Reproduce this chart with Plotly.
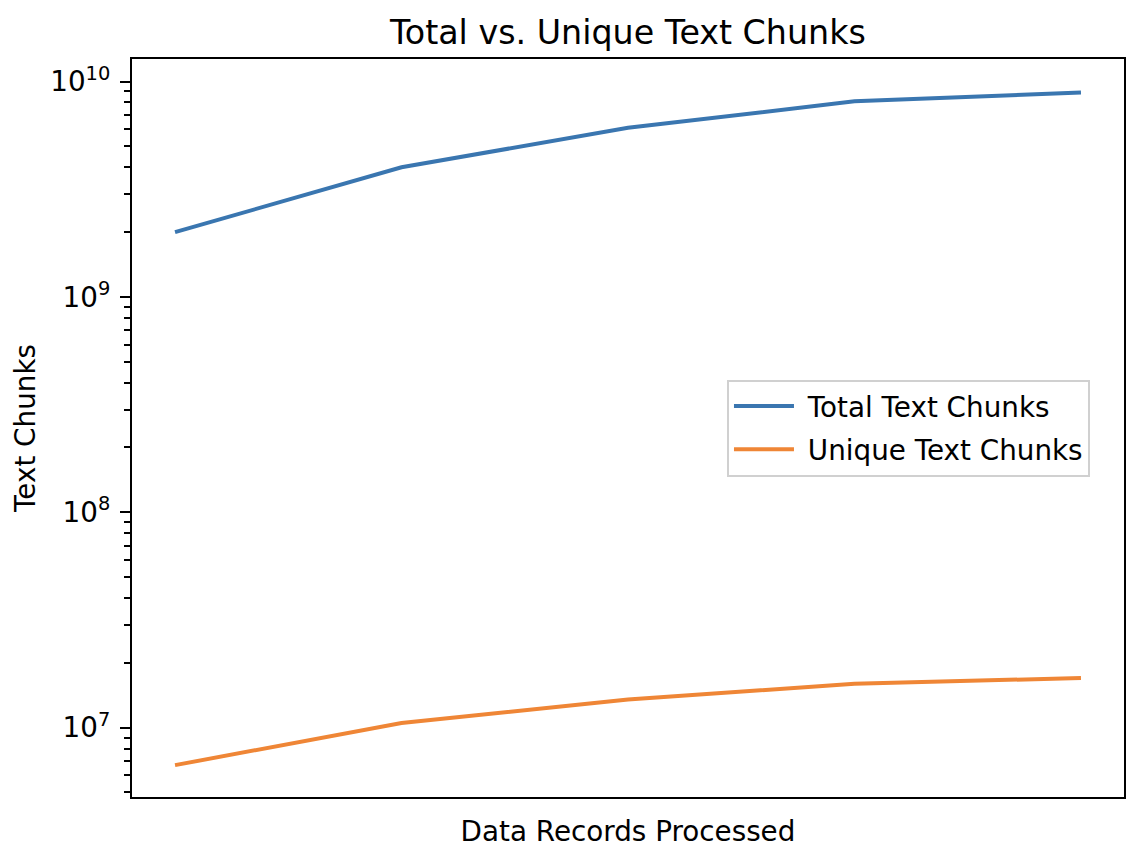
import plotly.graph_objects as go

# data
records = [0, 1, 2, 3, 4]
total_chunks = [2.0e9, 4.0e9, 6.1e9, 8.1e9, 8.9e9]
unique_chunks = [6.7e6, 1.05e7, 1.35e7, 1.6e7, 1.7e7]

major_vals = [1e7, 1e8, 1e9, 1e10]
major_text = ['10<sup>7</sup>', '10<sup>8</sup>', '10<sup>9</sup>', '10<sup>10</sup>']
minor_vals = [m * 10 ** e for e in range(6, 10) for m in range(2, 10)]

BLUE = '#3a76b0'
ORANGE = '#ef8636'
FONT = 'DejaVu Sans'
LABEL = 27.8
TITLE = 33.3

fig = go.Figure()
fig.add_trace(go.Scatter(x=records, y=total_chunks, mode='lines',
                         name='\u00a0Total Text Chunks', legendgroup='a',
                         line=dict(color=BLUE, width=4)))
fig.add_trace(go.Scatter(x=records, y=unique_chunks, mode='lines',
                         name='\u00a0Unique Text Chunks', legendgroup='b',
                         line=dict(color=ORANGE, width=4)))

fig.update_xaxes(range=[-0.19, 4.19],
                 showgrid=False,
                 zeroline=False,
                 showticklabels=False,
                 ticks='',
                 showline=True, linecolor='black', linewidth=2.2, mirror=True,
                 title=dict(text='Data Records Processed',
                            font=dict(size=LABEL, color='black'),
                            standoff=23))

fig.update_yaxes(type='log',
                 range=[6.678, 10.105],
                 showgrid=False,
                 zeroline=False,
                 tickmode='array',
                 tickvals=major_vals,
                 ticktext=major_text,
                 ticks='outside', ticklen=10, tickwidth=2.2, tickcolor='black',
                 ticklabelstandoff=4,
                 minor=dict(tickmode='array', tickvals=minor_vals,
                            ticks='outside', ticklen=5.5, tickwidth=1.6,
                            tickcolor='black', showgrid=False),
                 tickfont=dict(size=LABEL, color='black'),
                 showline=True, linecolor='black', linewidth=2.2, mirror=True,
                 title=dict(text='Text Chunks',
                            font=dict(size=LABEL, color='black'),
                            standoff=7))

fig.update_layout(
    width=1148,
    height=862,
    font=dict(family=FONT, color='black'),
    paper_bgcolor='white',
    plot_bgcolor='white',
    margin=dict(l=132, r=24, t=59, b=65, pad=0),
    title=dict(text='Total vs. Unique Text Chunks',
               x=0.547, xanchor='center',
               y=0.963, yanchor='middle',
               font=dict(size=TITLE, color='black')),
    showlegend=True,
    legend=dict(x=0.9657, xanchor='right',
                y=0.5, yanchor='middle',
                bgcolor='white',
                bordercolor='#d0d0d0', borderwidth=2,
                font=dict(size=LABEL, color='black'),
                itemwidth=60,
                tracegroupgap=4),
)

fig.write_html("out.html",
               config={'displayModeBar': False},
               post_script="document.body.style.margin='0px';")
